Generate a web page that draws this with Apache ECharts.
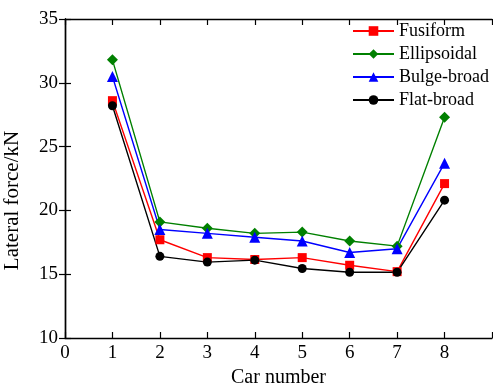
<!DOCTYPE html>
<html><head><meta charset="utf-8">
<script src="https://cdn.jsdelivr.net/npm/echarts@6/dist/echarts.min.js"></script>
<style>html,body{margin:0;padding:0;background:#fff}#c{width:493px;height:388px}</style>
</head><body><div id="c"></div>
<script>
const cars = [1, 2, 3, 4, 5, 6, 7, 8];
const fusiform    = [28.6, 17.7, 16.3, 16.15, 16.3, 15.7, 15.2, 22.1];
const ellipsoidal = [31.8, 19.1, 18.6, 18.2, 18.3, 17.6, 17.2, 27.3];
const bulgeBroad  = [30.5, 18.5, 18.2, 17.9, 17.6, 16.7, 17.0, 23.7];
const flatBroad   = [28.2, 16.4, 15.95, 16.1, 15.45, 15.15, 15.15, 20.8];
const xTicks = [0, 1, 2, 3, 4, 5, 6, 7, 8];
const yTicks = [10, 15, 20, 25, 30, 35];

const font = 'Liberation Serif';
const pair = a => cars.map((c, i) => [c, a[i]]);
const mk = (name, data, color, symbol, size) => ({
  name, type: 'line', data: pair(data), symbol, symbolSize: size,
  lineStyle: { color, width: 1.4 }, itemStyle: { color }, color
});
const axisCommon = {
  axisLine: { show: true, lineStyle: { color: '#000', width: 1.4 } },
  axisTick: { show: true, inside: true, length: 6, lineStyle: { color: '#000', width: 1.2 } },
  splitLine: { show: false }
};
const chart = echarts.init(document.getElementById('c'));
chart.setOption({
  animation: false,
  grid: { left: 65, right: 1, top: 19, bottom: 50, containLabel: false, outerBoundsMode: 'none' },
  legend: {
    orient: 'vertical', left: 352, top: 22, padding: 0, itemWidth: 41, itemHeight: 12, itemGap: 5,
    textStyle: { fontFamily: font, fontSize: 18, color: '#000' },
    data: ['Fusiform', 'Ellipsoidal', 'Bulge-broad', 'Flat-broad']
  },
  xAxis: [
    Object.assign({ type: 'value', min: 0, max: 9, interval: 1, position: 'bottom',
      name: 'Car number', nameLocation: 'middle', nameGap: 29,
      nameTextStyle: { fontFamily: font, fontSize: 20, color: '#000' },
      axisLabel: { fontFamily: font, fontSize: 19, color: '#000', margin: 6,
        formatter: v => xTicks.includes(v) ? String(v) : '' } }, axisCommon),
    Object.assign({ type: 'value', min: 0, max: 9, interval: 1, position: 'top',
      axisLabel: { show: false } }, axisCommon)
  ],
  yAxis: [
    Object.assign({ type: 'value', min: 10, max: 35, interval: 5, position: 'left',
      name: 'Lateral force/kN', nameLocation: 'middle', nameGap: 42,
      nameTextStyle: { fontFamily: font, fontSize: 21, color: '#000', padding: [0, 44, 0, 0] },
      axisLabel: { fontFamily: font, fontSize: 19, color: '#000', margin: 7,
        formatter: v => yTicks.includes(v) ? String(v) : '' } }, axisCommon),
    Object.assign({ type: 'value', min: 10, max: 35, interval: 5, position: 'right',
      axisLabel: { show: false } }, axisCommon)
  ],
  series: [
    mk('Fusiform', fusiform, '#ff0000', 'rect', 9),
    mk('Ellipsoidal', ellipsoidal, '#008000', 'diamond', 11),
    mk('Bulge-broad', bulgeBroad, '#0000ff', 'triangle', 11),
    mk('Flat-broad', flatBroad, '#000000', 'circle', 9)
  ]
});
</script></body></html>
